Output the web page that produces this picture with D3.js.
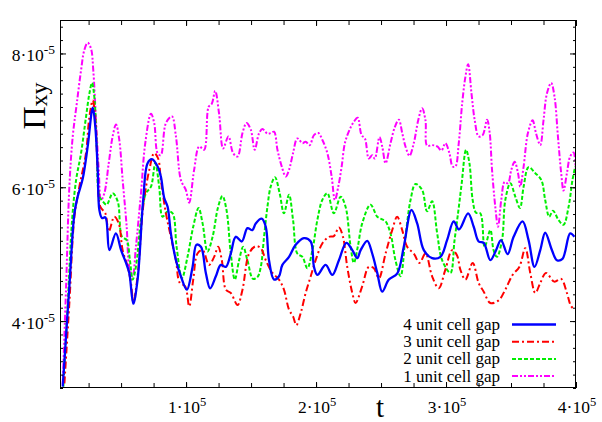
<!DOCTYPE html>
<html>
<head>
<meta charset="utf-8">
<script src="https://cdn.jsdelivr.net/npm/d3@7"></script>
<style>
  html, body { margin: 0; padding: 0; background: #fff; }
  svg { display: block; }
</style>
</head>
<body>
<svg id="chart" width="602" height="422" font-family="'Liberation Serif', 'DejaVu Serif', serif"></svg>
<script>
// ---- data (t in units of 1000, values in units of 1e-5) ----
const seriesNames = ["4 unit cell gap", "3 unit cell gap", "2 unit cell gap", "1 unit cell gap"];

const gap4T = [5.1,10.2,14.1,16.6,20.5,24.3,28.2,30.2,32.0,33.3,35.3,37.9,41,46,50,53.8,56.3,59.4,62.7,67,70.4,73.7,78.1,80.6,83.2,85.8,88.3,92.2,96,100.6,105,108,111.4,115.2,118.5,122.9,126.7,130.6,134.4,138.2,142.9,147.2,151,153.6,158.2,161.3,163.8,167.7,171.5,174.1,179.2,184.3,190.7,195.9,198.4,201,207.4,212.5,217.6,223.3,227.9,231.7,234.3,239.4,243.2,247.1,250.9,256,262.4,267.5,273.4,277.8,282.9,289.3,295.7,300.8,305.9,310,317,321.3,325.1,329,334.1,338.5,342.3,347.4,352,358.9,363.5,368.1,372.5,376.3,381.5,385.3,389.6,395.5,398.8];
const gap4V = [3.02,4.52,5.61,5.86,6.13,6.61,7.19,6.90,6.26,5.66,5.54,5.55,5.06,5.31,5.06,4.87,4.72,4.26,4.62,5.81,6.36,6.42,6.31,6.16,5.84,5.71,5.31,4.91,4.67,4.47,4.81,5.14,5.11,4.72,4.49,4.67,4.84,4.81,5.01,5.26,5.19,5.39,5.36,5.46,5.53,5.41,4.91,4.62,4.67,4.84,4.96,5.14,5.24,5.19,4.81,4.69,4.84,4.69,4.91,5.17,5.06,4.94,5.06,5.20,5.01,4.72,4.44,4.62,4.71,5.11,5.66,5.46,5.06,4.94,4.96,5.21,5.49,5.37,5.61,5.41,5.19,5.17,4.91,5.06,5.21,5.00,5.26,5.49,5.21,4.81,5.06,5.32,5.06,4.91,4.93,5.31,5.26];

const gap3T = [6.4,10.2,14.1,17.9,23,25.6,28.2,30.2,32,34,37.9,40.5,44.8,48.2,51.2,55.1,57.6,59.4,62.7,67,71.7,75.5,78.5,80.6,84.5,88.3,92.2,95.2,99.3,102.4,105.5,108.8,112.7,117.7,121.6,124.7,127.5,130.6,134.4,139.6,143.4,148.5,153.6,157.5,161.3,166.4,171.5,175.3,179.2,182.3,184.8,188.2,192,195.9,199.7,204.8,209.9,213.7,217.6,220.7,224,227.9,230.4,235.5,240.6,244.5,248.3,253.5,258.6,262.4,266.3,270.1,275.2,279.6,284.2,289.3,294.4,299.5,304.7,308.5,311,314.9,320.5,325.1,329,334.1,340.5,345.6,351.2,356.4,361,364.8,368.7,372.5,376.9,383.3,388.6,393,396.3,399.4];
const gap3V = [3.07,4.27,5.56,6.01,6.51,7.05,7.30,7.00,6.26,5.71,5.61,5.34,5.56,5.46,5.06,4.81,4.57,4.29,4.67,5.71,6.26,6.51,6.43,6.11,5.61,5.26,4.91,4.57,4.52,4.22,4.62,5.01,5.06,4.84,4.96,5.11,4.91,4.47,4.42,4.24,4.47,5.01,5.12,5.09,4.91,4.72,4.62,4.47,4.17,4.07,3.94,4.12,4.42,4.67,4.91,5.16,5.26,5.27,5.40,5.26,4.81,4.42,4.27,4.52,4.81,4.79,4.64,5.01,5.36,5.56,5.36,5.11,5.01,4.87,5.01,4.67,4.49,4.77,5.06,4.98,4.77,4.62,4.87,4.57,4.44,4.27,4.31,4.47,4.69,4.81,5.09,4.72,4.42,4.57,4.72,4.59,4.63,4.42,4.22,4.17];

const gap2T = [5.6,9,12.3,15.4,19.2,23,25.6,27.6,29.4,31.3,33.3,35.9,38.9,43.5,47.4,50.7,54.3,56.8,58.9,61.4,65.3,69.1,73,76.3,79.3,81.9,85.8,89.6,92.7,96.8,101.1,105.5,109.6,112.7,116.5,120.4,124.7,128,131.1,134.4,137.5,140.8,143.9,147.2,151.5,155,157.5,160,162.6,165.1,168.4,172,175.3,179.2,182.3,185.6,189.5,193.3,197.2,201,204.8,208.7,213.7,218.9,222.7,226.6,229.1,232,235.5,241.9,247.1,250.9,253.5,257.3,261.1,265,268.8,272.7,276.5,281.6,285.4,289.3,293.2,297,303.4,306.5,309.5,312,315.4,318,320.5,323.1,326.4,329.7,334.1,336.6,339.2,343.1,345.6,349.5,353.3,356.9,359.7,363.5,368.7,373.3,376.3,379.4,382.3,386.6,390.4,394.3,397.3,399.4];
const gap2V = [3.02,4.27,5.51,6.11,6.51,7.05,7.40,7.56,7.35,6.61,5.86,5.79,5.74,5.91,5.79,5.26,5.21,4.91,4.62,4.81,5.51,5.91,6.01,6.36,6.01,5.56,5.64,5.61,5.11,4.64,4.96,5.41,5.69,5.46,5.04,5.26,5.71,5.87,5.66,5.01,4.62,4.91,5.11,4.91,4.63,4.66,4.81,5.26,5.71,6.01,6.15,5.91,5.61,5.89,5.51,5.01,4.96,4.79,5.06,5.51,5.81,5.91,5.61,5.86,5.71,5.11,4.87,5.10,5.46,5.74,5.56,5.52,5.49,5.31,4.91,4.67,5.26,5.81,6.05,5.96,5.64,5.79,5.31,4.91,4.72,5.20,5.65,6.05,6.56,6.36,5.81,5.62,5.61,5.11,5.36,5.06,4.96,5.21,5.81,6.06,5.86,5.69,6.01,6.30,6.21,6.11,5.81,5.56,5.65,5.51,5.44,5.71,6.11,6.31];

const gap1T = [5.1,7.7,10.2,12.8,15.9,19.2,21.7,24.3,26.9,28.6,30.7,32.8,34.6,37.1,40.5,43.5,46.1,48.6,51.2,54.3,56.3,58.9,61.4,65.3,68.6,73,75.5,78.1,80.5,84.5,89.1,92.2,96,99.8,102.4,106.2,110.1,113.9,117.3,119.8,122.4,125.4,128.5,132.6,136.2,139.6,143.4,146.5,149.8,152.8,156.2,158.8,162.6,165.1,167.7,170.3,173.6,176.7,179.2,182.3,185.6,189.5,192,195.1,198.4,201.8,204.8,208.7,212,214.5,217.1,219.7,222.2,225.8,229.1,232,235,237.6,240.6,243.2,245.2,248.8,250.9,253.5,257.3,260.6,263.7,266.3,268.8,271.9,275.2,278.6,281.6,284.2,285.4,289.3,293.2,296.5,299.5,302.6,305.1,307.2,309.8,312.4,314.9,317,319.6,322.1,325.1,328.2,331.6,333.6,335.4,337.9,340,342.5,345.1,347.7,350.2,352.8,355.4,357.1,359.7,363,366.6,369.2,372.5,375,377.6,380.9,383.5,386.1,388.6,390.4,393,395.5,398.1,399.9];
const gap1V = [3.05,4.52,6.01,6.76,7.25,7.75,8.05,8.16,8.07,7.75,7.00,6.26,5.81,5.91,6.36,6.76,6.94,6.71,6.11,5.41,4.81,4.67,5.11,5.91,6.66,7.10,6.96,6.51,6.48,6.96,7.06,6.76,6.11,5.96,5.77,6.26,6.61,6.56,7.20,7.25,7.44,7.10,6.58,6.76,6.51,6.46,6.81,6.96,6.86,6.56,6.81,6.87,6.80,6.81,6.83,6.56,6.31,6.16,6.26,6.51,6.73,6.66,6.68,6.63,6.78,6.81,6.71,6.51,6.16,5.81,6.01,6.31,6.66,6.86,6.98,7.04,6.78,6.73,6.43,6.48,6.43,6.75,6.61,6.36,6.66,6.90,7.01,6.81,6.61,6.47,6.66,7.00,7.18,7.00,6.62,6.63,6.61,6.55,6.66,6.51,6.31,6.31,6.66,7.25,7.65,7.84,7.40,7.00,6.76,6.78,7.01,6.81,6.26,5.71,5.41,5.81,6.08,6.06,6.26,6.38,6.21,6.01,6.31,6.81,7.00,6.81,6.63,7.00,7.40,7.56,7.35,6.76,6.21,5.95,6.21,6.46,6.52,6.21];

const xMajorTicks = [100000, 200000, 300000, 400000];
const xTickMantissa = ["1·10", "2·10", "3·10", "4·10"];
const xTickExponent = "5";
const yMajorTicks = [4e-5, 6e-5, 8e-5];
const yTickMantissa = ["4·10", "6·10", "8·10"];
const yTickExponent = "-5";
const xLabel = "t";
const yLabelMain = "Π";
const yLabelSub = "xy";

// ---- styles ----
const FONT = "'Liberation Serif', 'DejaVu Serif', serif";
const colors = ["#0000ff", "#ff0000", "#00ee00", "#ff00ff"];
const dashes = [null, "7,3,2,3", "4,2", "6,2,2,2,2,2"];
const widths = [2.3, 2, 2, 2];

const series = [
  {T: gap4T, V: gap4V},
  {T: gap3T, V: gap3V},
  {T: gap2T, V: gap2V},
  {T: gap1T, V: gap1V}
].map((s, i) => ({name: seriesNames[i], pts: s.T.map((t, j) => [t * 1000, s.V[j] * 1e-5])}));

const L = 60, R = 576, T = 20, B = 388;
const svg = d3.select("#chart");
const x = d3.scaleLinear().domain([3000, 400000]).range([L, R]);
const y = d3.scaleLinear().domain([3e-5, 8.5e-5]).range([B, T]);

svg.append("defs").append("clipPath").attr("id", "clip")
  .append("rect").attr("x", L).attr("y", T).attr("width", R - L).attr("height", B - T);

const line = d3.line().x(d => x(d[0])).y(d => y(d[1])).curve(d3.curveCatmullRom.alpha(0.5));

const plot = svg.append("g").attr("clip-path", "url(#clip)");
series.map((s, i) => ({s, i})).reverse().forEach(({s, i}) => {
  plot.append("path").datum(s.pts)
    .attr("d", line)
    .attr("fill", "none")
    .attr("stroke", colors[i])
    .attr("stroke-width", widths[i])
    .attr("stroke-dasharray", dashes[i])
    .attr("stroke-linejoin", "round");
});

// ---- axes (ticks inward, mirrored) ----
const xMinor = d3.range(25000, 400001, 25000);
const yMinor = d3.range(30, 85, 2).map(v => v * 1e-6);

const axB = d3.axisBottom(x).tickValues(xMinor).tickSize(-5).tickFormat("");
const axT = d3.axisTop(x).tickValues(xMinor).tickSize(-5).tickFormat("");
const axL = d3.axisLeft(y).tickValues(yMinor).tickSize(-3).tickFormat("");
const axR = d3.axisRight(y).tickValues(yMinor).tickSize(-3).tickFormat("");
const axLM = d3.axisLeft(y).tickValues(yMajorTicks).tickSize(-6).tickFormat("");
const axRM = d3.axisRight(y).tickValues(yMajorTicks).tickSize(-6).tickFormat("");
const axBM = d3.axisBottom(x).tickValues(xMajorTicks).tickSize(-6).tickFormat("");
const axTM = d3.axisTop(x).tickValues(xMajorTicks).tickSize(-6).tickFormat("");

[[axB, `translate(0,${B})`], [axT, `translate(0,${T})`], [axL, `translate(${L},0)`], [axR, `translate(${R},0)`],
 [axLM, `translate(${L},0)`], [axRM, `translate(${R},0)`], [axBM, `translate(0,${B})`], [axTM, `translate(0,${T})`]]
 .forEach(([ax, tr]) => {
   const g = svg.append("g").attr("transform", tr).call(ax);
   g.select(".domain").remove();
   g.selectAll("line").attr("stroke", "#000").attr("stroke-width", 1);
 });

svg.append("rect").attr("x", L + 0.5).attr("y", T + 0.5).attr("width", R - L - 1).attr("height", B - T - 1)
  .attr("fill", "none").attr("stroke", "#000").attr("stroke-width", 1);

function txt(xp, yp, anchor, size) {
  return svg.append("text").attr("x", xp).attr("y", yp).attr("text-anchor", anchor)
    .attr("font-family", FONT).attr("font-size", size).attr("fill", "#000");
}

// tick labels
xMajorTicks.forEach((v, i) => {
  const t = txt(x(v) + 1, 413, "middle", 17.5);
  t.append("tspan").text(xTickMantissa[i]);
  t.append("tspan").attr("dy", -7).attr("font-size", 12.5).text(xTickExponent);
});
yMajorTicks.forEach((v, i) => {
  const t = txt(55, y(v) + 8, "end", 17.5);
  t.append("tspan").text(yTickMantissa[i]);
  t.append("tspan").attr("dy", -7).attr("font-size", 13.5).text(yTickExponent);
});

// axis labels
txt(380, 417, "middle", 29).text(xLabel);
const yl = svg.append("text").attr("transform", "translate(45,106) rotate(-90)").attr("text-anchor", "middle")
  .attr("font-family", FONT).attr("font-size", 32).attr("fill", "#000");
yl.append("tspan").text(yLabelMain);
yl.append("tspan").attr("font-size", 24).attr("dy", 2).text(yLabelSub);

// legend
series.forEach((s, i) => {
  const ly = 324.5 + i * 17.2;
  txt(500, ly + 5.5, "end", 17).text(s.name);
  svg.append("line").attr("x1", 512).attr("x2", 556).attr("y1", ly).attr("y2", ly)
    .attr("stroke", colors[i]).attr("stroke-width", widths[i]).attr("stroke-dasharray", dashes[i]);
});
</script>
</body>
</html>
